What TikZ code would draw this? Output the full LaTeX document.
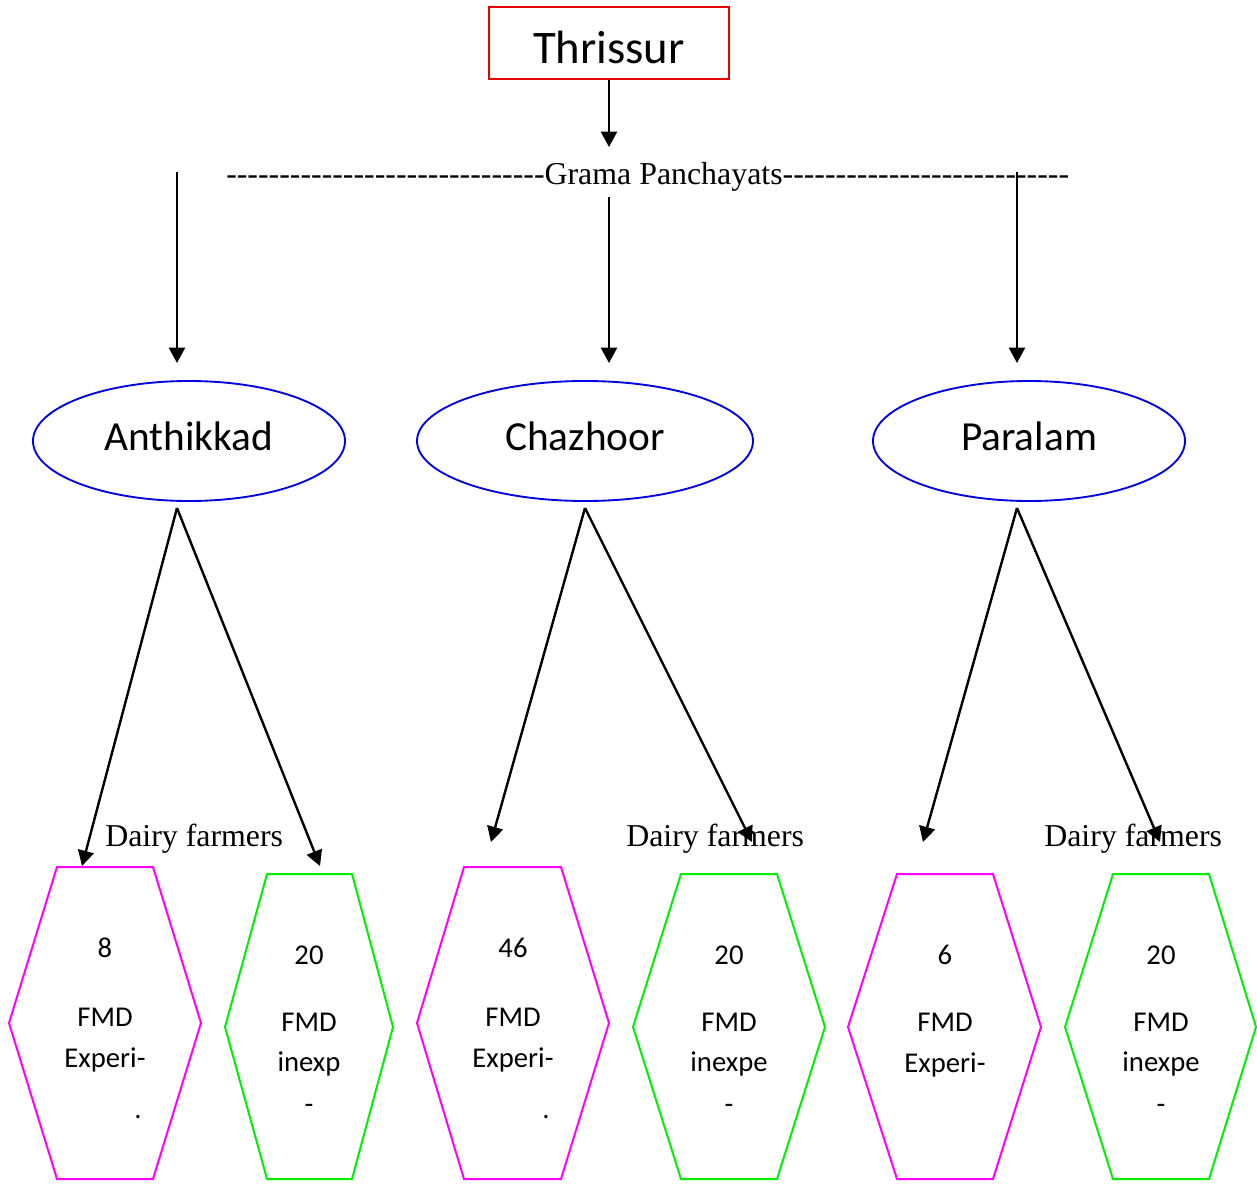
\documentclass[tikz,border=0pt]{standalone}
\usepackage{fontspec}
\setmainfont{Carlito}
\newfontfamily\timesf{Liberation Serif}
\usetikzlibrary{arrows.meta,shapes.geometric}
\definecolor{hgreen}{RGB}{0,240,0}
\definecolor{hmag}{RGB}{255,0,255}
\definecolor{eblue}{RGB}{0,0,230}
\definecolor{bred}{RGB}{235,0,0}
\newcommand\hyphs[1]{\foreach\i in {1,...,#1}{-\kern0pt}}
\begin{document}
\begin{tikzpicture}[x=0.75pt,y=-0.75pt,
  arr/.style={line width=1.8pt,-{Triangle[length=11.5pt,width=12pt]}},
  hexm/.style={draw=hmag,line width=1.5pt},
  hexg/.style={draw=hgreen,line width=1.5pt},
  ht/.style={font=\fontsize{21.5}{26}\selectfont,anchor=base,inner sep=0pt},
  vill/.style={ellipse,draw=eblue,line width=1.4pt,minimum width=234pt,minimum height=90pt,inner sep=0pt,
     font=\fontsize{31}{36}\selectfont,text height=13.5pt,text depth=0pt},
  tlab/.style={font=\timesf\fontsize{23.9}{28}\selectfont,inner sep=0pt}]
\useasboundingbox (0,0) rectangle (1257,1184);
% top box
\node[draw=bred,line width=1.3pt,minimum width=180pt,minimum height=54pt,inner sep=0pt,
  font=\fontsize{35}{40}\selectfont,text height=31.5pt,text depth=0pt] (thr) at (609,43) {Thrissur};
\coordinate (c0) at (609,147);
\draw[arr] (thr.south) -- (c0);
% Grama Panchayats line
\node[tlab,anchor=base west] (gp) at (226,185) {\hyphs{30}Grama Panchayats\hyphs{27}};
% villages
\node[vill] (ant) at (189,441) {Anthikkad};
\node[vill,minimum width=252pt] (cha) at (585,441) {Chazhoor};
\node[vill] (par) at (1029,441) {Paralam};
\coordinate (s1) at (177,172); \coordinate (e1) at (177,363);
\coordinate (s2) at (609,197); \coordinate (e2) at (609,363);
\coordinate (s3) at (1017,172); \coordinate (e3) at (1017,363);
\draw[arr] (s1) -- (e1);
\draw[arr] (s2) -- (e2);
\draw[arr] (s3) -- (e3);
% hexagons
\draw[hexm] (57,867) -- (153,867) -- (201,1023) -- (153,1179) -- (57,1179) -- (9,1023) -- cycle;
\draw[hexg] (267,874) -- (352,874) -- (393,1027) -- (352,1179) -- (267,1179) -- (225,1027) -- cycle;
\draw[hexm] (464,867) -- (561,867) -- (609,1023) -- (561,1179) -- (464,1179) -- (417,1023) -- cycle;
\draw[hexg] (681,874) -- (777,874) -- (825,1027) -- (777,1179) -- (681,1179) -- (633,1027) -- cycle;
\draw[hexm] (897,874) -- (993,874) -- (1041,1027) -- (993,1179) -- (897,1179) -- (848,1027) -- cycle;
\draw[hexg] (1113,874) -- (1209,874) -- (1256,1027) -- (1209,1179) -- (1113,1179) -- (1065,1027) -- cycle;
% dairy farmers labels
\node[tlab,anchor=base west] (df1) at (105,846) {Dairy farmers};
\node[tlab,anchor=base west] (df2) at (626,846) {Dairy farmers};
\node[tlab,anchor=base west] (df3) at (1044,846) {Dairy farmers};
% arrows from villages
\coordinate (a0) at (177,508); \coordinate (a1) at (82,866); \coordinate (a2) at (320,866);
\coordinate (b0) at (585,508); \coordinate (b1) at (491,842); \coordinate (b2) at (752,842);
\coordinate (p0) at (1017,508); \coordinate (p1) at (923,842); \coordinate (p2) at (1160,842);
\draw[arr] (a0) -- (a1);
\draw[arr] (a0) -- (a2);
\draw[arr] (b0) -- (b1);
\draw[arr] (b0) -- (b2);
\draw[arr] (p0) -- (p1);
\draw[arr] (p0) -- (p2);
% hexagon texts
\node[ht] (h1a) at (105,957) {8};
\node[ht] (h1b) at (105,1026) {FMD};
\node[ht] (h1c) at (105,1067) {Experi-};
\node[ht] (h1d) at (138,1118) {.};
\node[ht] (h2a) at (309,964) {20};
\node[ht] (h2b) at (309,1031) {FMD};
\node[ht] (h2c) at (309,1071) {inexp};
\node[ht] (h2d) at (309,1113) {-};
\node[ht] (h3a) at (513,957) {46};
\node[ht] (h3b) at (513,1026) {FMD};
\node[ht] (h3c) at (513,1067) {Experi-};
\node[ht] (h3d) at (546,1118) {.};
\node[ht] (h4a) at (729,964) {20};
\node[ht] (h4b) at (729,1031) {FMD};
\node[ht] (h4c) at (729,1071) {inexpe};
\node[ht] (h4d) at (729,1113) {-};
\node[ht] (h5a) at (945,964) {6};
\node[ht] (h5b) at (945,1031) {FMD};
\node[ht] (h5c) at (945,1072) {Experi-};
\node[ht] (h6a) at (1161,964) {20};
\node[ht] (h6b) at (1161,1031) {FMD};
\node[ht] (h6c) at (1161,1071) {inexpe};
\node[ht] (h6d) at (1161,1113) {-};
\end{tikzpicture}
\end{document}
